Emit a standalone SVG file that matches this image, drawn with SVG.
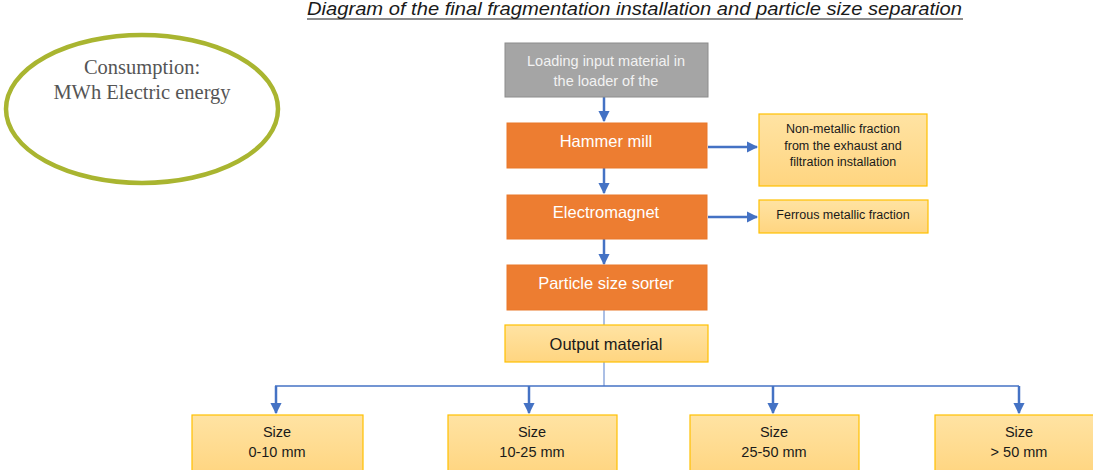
<svg xmlns="http://www.w3.org/2000/svg" width="1093" height="470" viewBox="0 0 1093 470">
<style>
.t{font-family:"Liberation Sans",Arial,sans-serif}
.orange{fill:#ED7D31;stroke:#E9782A;stroke-width:1}
.yel{fill:url(#yg);stroke:#FFC000;stroke-width:1.2}
.wt{fill:#FFFFFF;font-size:16.5px;text-anchor:middle}
.dk{fill:#1a1a1a;text-anchor:middle}
.arr{stroke:#4472C4;stroke-width:2.5;fill:none;marker-end:url(#ah)}
.thin{stroke:#8FAADC;stroke-width:1.5;fill:none}
</style>
<defs>
<linearGradient id="yg" x1="0" y1="0" x2="0" y2="1">
<stop offset="0" stop-color="#FFE3A3"/>
<stop offset="1" stop-color="#FFD580"/>
</linearGradient>
<marker id="ah" viewBox="0 0 10 10" refX="9" refY="5" markerWidth="4.5" markerHeight="4.5" orient="auto" markerUnits="strokeWidth">
<path d="M0,0 L10,5 L0,10 z" fill="#4472C4"/>
</marker>
</defs>
<rect width="1093" height="470" fill="#FFFFFF"/>
<g id="title">
<text class="t" x="307" y="15" font-size="17.5" font-style="italic" fill="#1a1a1a" textLength="655" lengthAdjust="spacingAndGlyphs">Diagram of the final fragmentation installation and particle size separation</text>
<line x1="307" y1="19" x2="963" y2="19" stroke="#1a1a1a" stroke-width="1"/>
</g>
<g id="consumption">
<ellipse cx="142" cy="109" rx="136" ry="74" fill="#FFFFFF" stroke="#A9B530" stroke-width="4.5"/>
<text x="142" y="74" font-family="'Liberation Serif','Times New Roman',serif" font-size="20.5" fill="#555555" text-anchor="middle">Consumption:</text>
<text x="142" y="99" font-family="'Liberation Serif','Times New Roman',serif" font-size="20.5" fill="#555555" text-anchor="middle">MWh Electric energy</text>
</g>
<g id="connectors">
<line class="arr" x1="604" y1="97" x2="604" y2="121"/>
<line class="arr" x1="604" y1="168" x2="604" y2="193"/>
<line class="arr" x1="604" y1="239" x2="604" y2="264"/>
<line class="arr" x1="708" y1="147" x2="757" y2="147"/>
<line class="arr" x1="708" y1="217" x2="757" y2="217"/>
<line class="thin" x1="604" y1="310" x2="604" y2="325"/>
<line class="thin" x1="604" y1="362" x2="604" y2="386"/>
<line x1="275" y1="386" x2="1019" y2="386" stroke="#4472C4" stroke-width="1.5"/>
<line class="arr" x1="276" y1="386" x2="276" y2="413"/>
<line class="arr" x1="529" y1="386" x2="529" y2="413"/>
<line class="arr" x1="773" y1="386" x2="773" y2="413"/>
<line class="arr" x1="1019" y1="386" x2="1019" y2="413"/>
</g>
<g id="loading">
<rect x="505" y="43" width="203" height="54" fill="#A5A5A5" stroke="#8C8C8C" stroke-width="1"/>
<text class="t" x="606" y="66" font-size="14.5" fill="#F2F2F2" text-anchor="middle">Loading input material in</text>
<text class="t" x="606" y="86" font-size="14.5" fill="#F2F2F2" text-anchor="middle">the loader of the</text>
</g>
<g id="hammer">
<rect class="orange" x="507" y="123" width="200" height="45"/>
<text class="t wt" x="606" y="147">Hammer mill</text>
</g>
<g id="electromagnet">
<rect class="orange" x="507" y="195" width="200" height="44"/>
<text class="t wt" x="606" y="218">Electromagnet</text>
</g>
<g id="sorter">
<rect class="orange" x="507" y="265" width="200" height="45"/>
<text class="t wt" x="606" y="289">Particle size sorter</text>
</g>
<g id="output">
<rect class="yel" x="505" y="325" width="203" height="37"/>
<text class="t dk" x="606" y="350" font-size="16.5">Output material</text>
</g>
<g id="nonmetallic">
<rect class="yel" x="759" y="114" width="168" height="72"/>
<text class="t dk" x="843" y="133" font-size="12.5">Non-metallic fraction</text>
<text class="t dk" x="843" y="150" font-size="12.5">from the exhaust and</text>
<text class="t dk" x="843" y="166" font-size="12.5">filtration installation</text>
</g>
<g id="ferrous">
<rect class="yel" x="759" y="200" width="169" height="33"/>
<text class="t dk" x="843" y="219" font-size="12.5">Ferrous metallic fraction</text>
</g>
<g id="size1">
<rect class="yel" x="192" y="415" width="171" height="60"/>
<text class="t dk" x="277" y="437" font-size="14.5">Size</text>
<text class="t dk" x="277" y="457" font-size="14.5">0-10 mm</text>
</g>
<g id="size2">
<rect class="yel" x="448" y="415" width="169" height="60"/>
<text class="t dk" x="532" y="437" font-size="14.5">Size</text>
<text class="t dk" x="532" y="457" font-size="14.5">10-25 mm</text>
</g>
<g id="size3">
<rect class="yel" x="690" y="415" width="169" height="60"/>
<text class="t dk" x="774" y="437" font-size="14.5">Size</text>
<text class="t dk" x="774" y="457" font-size="14.5">25-50 mm</text>
</g>
<g id="size4">
<rect class="yel" x="935" y="415" width="170" height="60"/>
<text class="t dk" x="1019" y="437" font-size="14.5">Size</text>
<text class="t dk" x="1019" y="457" font-size="14.5">&gt; 50 mm</text>
</g>
</svg>
